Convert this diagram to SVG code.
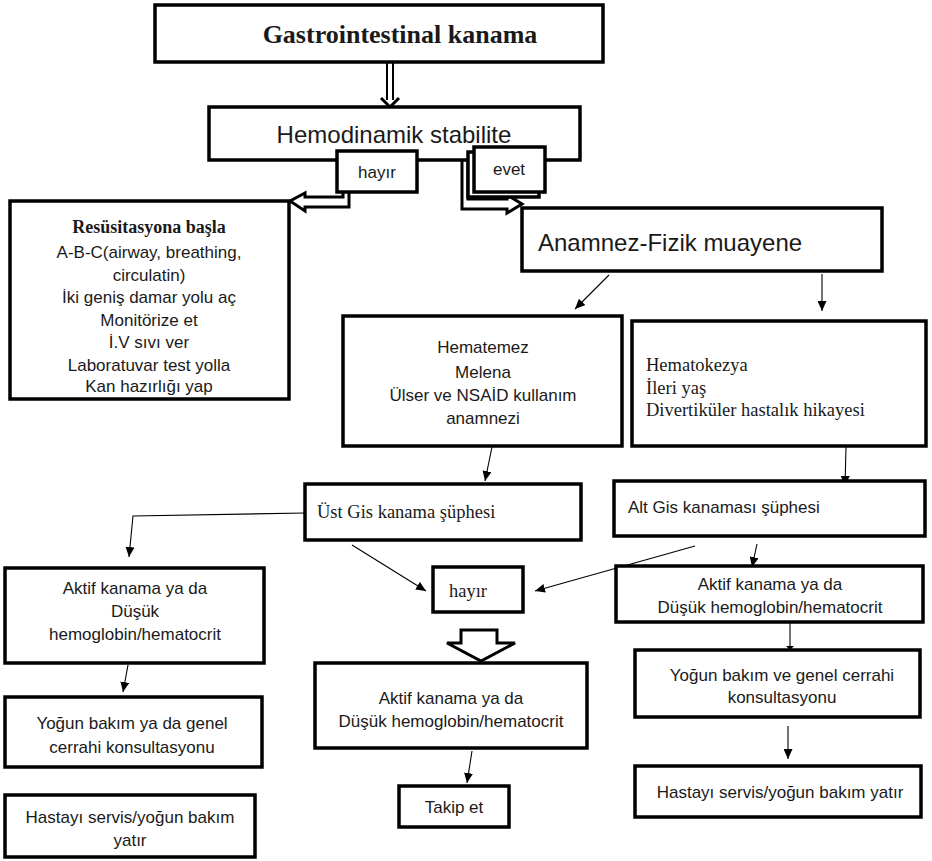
<svg xmlns="http://www.w3.org/2000/svg" width="932" height="861" viewBox="0 0 932 861">
<defs>
<marker id="ah" markerWidth="10" markerHeight="9" refX="10" refY="4.5" orient="auto" markerUnits="userSpaceOnUse"><path d="M0,0 L10,4.5 L0,9 z" fill="#000"/></marker>
<marker id="ahf" markerWidth="4" markerHeight="10" refX="4" refY="5" orient="auto" markerUnits="userSpaceOnUse"><path d="M0,1 L4,5 L0,9 z" fill="#000"/></marker>
<style>
.box{fill:#fff;stroke:#000;stroke-width:3.5}
.ln{fill:none;stroke:#000;stroke-width:1.1}
.blk{fill:#fff;stroke:#000;stroke-width:3;stroke-linejoin:miter}
.s{font-family:"Liberation Sans",Arial,sans-serif;fill:#1a1a1a}
.c{font-family:"Liberation Sans",Arial,sans-serif;font-size:17px;fill:#1a1a1a;text-anchor:middle}
.t{font-family:"Liberation Serif","Times New Roman",serif;font-size:18.5px;fill:#1a1a1a}
</style>
</defs>
<rect width="932" height="861" fill="#fff"/>

<g id="connectors">
<line class="ln" x1="609" y1="275" x2="575" y2="309" marker-end="url(#ah)"/>
<line class="ln" x1="822" y1="274" x2="822" y2="311" marker-end="url(#ah)"/>
<line class="ln" x1="492" y1="447" x2="485" y2="481" marker-end="url(#ah)"/>
<line class="ln" x1="846" y1="447" x2="845" y2="486" marker-end="url(#ah)"/>
<polyline class="ln" points="305,513 133,516 129,557" marker-end="url(#ah)"/>
<line class="ln" x1="352" y1="545" x2="426" y2="591" marker-end="url(#ah)"/>
<line class="ln" x1="695" y1="546" x2="535" y2="591" marker-end="url(#ah)"/>
<line class="ln" x1="757" y1="544" x2="752" y2="567" marker-end="url(#ah)"/>
<line class="ln" x1="790" y1="622" x2="790" y2="650" marker-end="url(#ahf)"/>
<line class="ln" x1="788" y1="726" x2="788" y2="759" marker-end="url(#ah)"/>
<line class="ln" x1="128" y1="665" x2="123" y2="692" marker-end="url(#ah)"/>
<line class="ln" x1="472" y1="751" x2="467" y2="783" marker-end="url(#ah)"/>
<line x1="387" y1="62" x2="387" y2="100" stroke="#000" stroke-width="2"/>
<line x1="393" y1="62" x2="393" y2="100" stroke="#000" stroke-width="2"/>
<path d="M381,98 L390,107 L399,98" fill="none" stroke="#000" stroke-width="3"/>
<polygon class="blk" points="290,201 305,193 305,197 343,197 343,190 349,190 349,207 305,207 305,211"/>
<polygon class="blk" points="462,158 468,158 468,199 507,199 507,195 522,204 507,213 507,209 462,209"/>
<polygon class="blk" points="461,630 497,630 497,643 515,643 481,661 447,643 461,643"/>
</g>

<g id="n-title">
<rect class="box" x="155" y="5" width="448" height="57"/>
<text x="400" y="43" text-anchor="middle" style="font-family:'Liberation Serif','Times New Roman',serif;font-weight:bold;font-size:26px;fill:#1a1a1a">Gastrointestinal kanama</text>
</g>

<g id="n-hemodinamik">
<rect class="box" x="209" y="107" width="371" height="53"/>
<text class="s" x="394" y="143" text-anchor="middle" font-size="24">Hemodinamik stabilite</text>
</g>

<g id="n-hayir1">
<rect class="box" x="337" y="151" width="80" height="41"/>
<text class="c" x="377" y="178" font-size="16">hayır</text>
</g>

<g id="n-evet">
<rect class="box" x="468" y="152" width="71" height="45"/>
<rect class="box" x="474" y="147" width="71" height="45"/>
<text class="c" x="509" y="175" font-size="16">evet</text>
</g>

<g id="n-resus">
<rect class="box" x="10" y="201" width="279" height="198"/>
<text x="149" y="233" text-anchor="middle" style="font-family:'Liberation Serif','Times New Roman',serif;font-weight:bold;font-size:18px;fill:#1a1a1a">Resüsitasyona başla</text>
<text class="c" x="149" y="258">A-B-C(airway, breathing,</text>
<text class="c" x="149" y="281">circulatin)</text>
<text class="c" x="149" y="303">İki geniş damar yolu aç</text>
<text class="c" x="149" y="326">Monitörize et</text>
<text class="c" x="149" y="348">İ.V sıvı ver</text>
<text class="c" x="149" y="371">Laboratuvar test yolla</text>
<text class="c" x="149" y="392">Kan hazırlığı yap</text>
</g>

<g id="n-anamnez">
<rect class="box" x="522" y="208" width="360" height="63"/>
<text class="s" x="538" y="251" font-size="24">Anamnez-Fizik muayene</text>
</g>

<g id="n-hematemez">
<rect class="box" x="343" y="316" width="279" height="130"/>
<text class="c" x="483" y="353">Hematemez</text>
<text class="c" x="483" y="378">Melena</text>
<text class="c" x="483" y="401">Ülser ve NSAİD kullanım</text>
<text class="c" x="483" y="424">anamnezi</text>
</g>

<g id="n-hematokezya">
<rect class="box" x="632" y="321" width="294" height="125"/>
<text class="t" x="646" y="371">Hematokezya</text>
<text class="t" x="646" y="394">İleri yaş</text>
<text class="t" x="646" y="416">Divertiküler hastalık hikayesi</text>
</g>

<g id="n-ustgis">
<rect class="box" x="305" y="484" width="276" height="56"/>
<text class="t" x="317" y="518">Üst Gis kanama şüphesi</text>
</g>

<g id="n-altgis">
<rect class="box" x="614" y="481" width="311" height="55"/>
<text class="s" x="628" y="513" font-size="17">Alt Gis kanaması şüphesi</text>
</g>

<g id="n-hayir2">
<rect class="box" x="433" y="567" width="90" height="45"/>
<text class="t" x="449" y="597">hayır</text>
</g>

<g id="n-aktif-left">
<rect class="box" x="5" y="568" width="259" height="95"/>
<text class="c" x="135" y="594">Aktif kanama ya da</text>
<text class="c" x="135" y="617">Düşük</text>
<text class="c" x="135" y="640">hemoglobin/hematocrit</text>
</g>

<g id="n-aktif-right">
<rect class="box" x="616" y="566" width="307" height="56"/>
<text class="c" x="770" y="590">Aktif kanama ya da</text>
<text class="c" x="770" y="613">Düşük hemoglobin/hematocrit</text>
</g>

<g id="n-yogun-right">
<rect class="box" x="635" y="650" width="285" height="67"/>
<text class="c" x="782" y="681">Yoğun bakım ve genel cerrahi</text>
<text class="c" x="782" y="703">konsultasyonu</text>
</g>

<g id="n-hastayi-right">
<rect class="box" x="635" y="766" width="286" height="51"/>
<text class="c" x="780" y="798">Hastayı servis/yoğun bakım yatır</text>
</g>

<g id="n-aktif-center">
<rect class="box" x="315" y="663" width="272" height="85"/>
<text class="c" x="451" y="704">Aktif kanama ya da</text>
<text class="c" x="451" y="727">Düşük hemoglobin/hematocrit</text>
</g>

<g id="n-takip">
<rect class="box" x="399" y="786" width="110" height="41"/>
<text class="c" x="454" y="813">Takip et</text>
</g>

<g id="n-yogun-left">
<rect class="box" x="5" y="697" width="257" height="70"/>
<text class="c" x="132" y="729">Yoğun bakım ya da genel</text>
<text class="c" x="132" y="753">cerrahi konsultasyonu</text>
</g>

<g id="n-hastayi-left">
<rect class="box" x="5" y="795" width="250" height="62"/>
<text class="c" x="130" y="823">Hastayı servis/yoğun bakım</text>
<text class="c" x="130" y="846">yatır</text>
</g>
</svg>
